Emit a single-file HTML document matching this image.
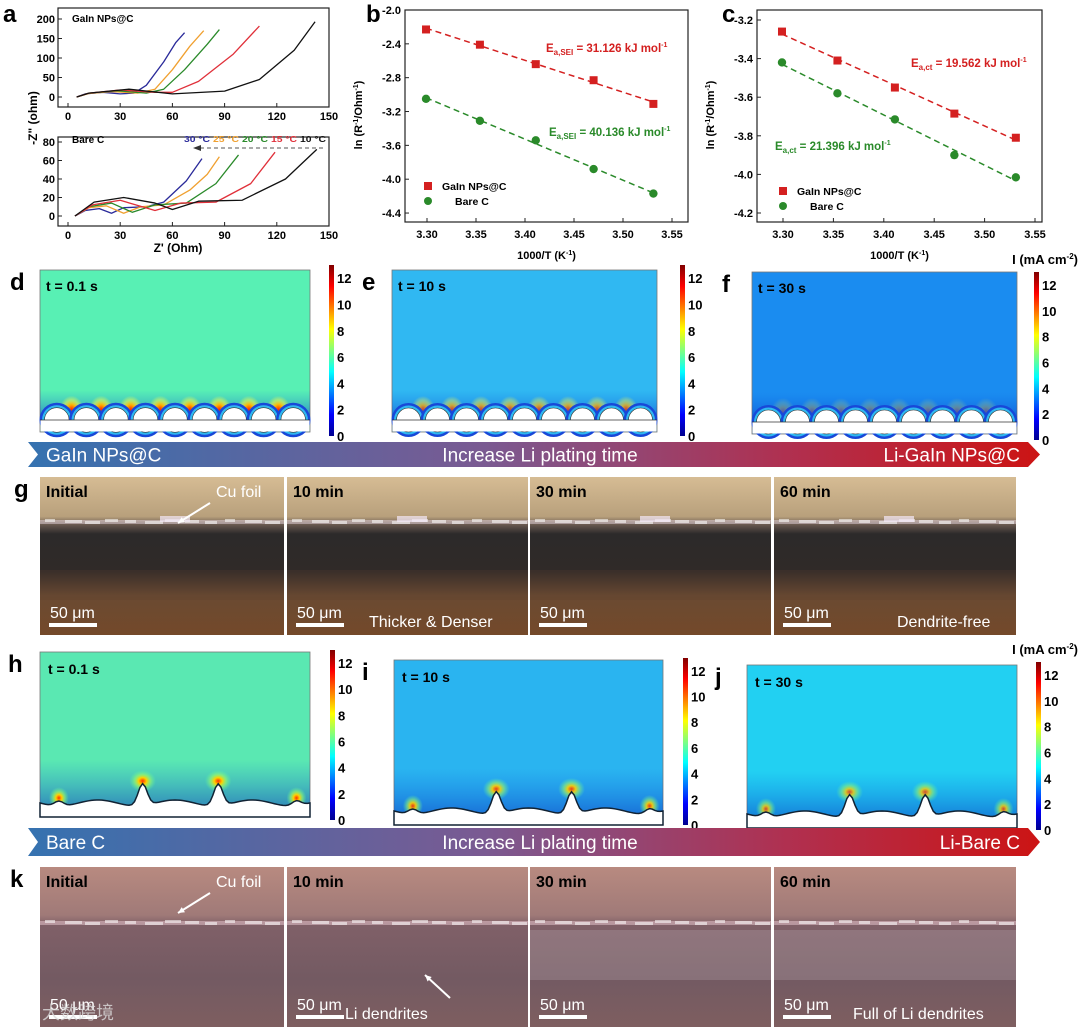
<!DOCTYPE html>
<html><head><meta charset="utf-8">
<style>
html,body{margin:0;padding:0;background:#fff;}
svg{display:block;font-family:"Liberation Sans","Noto Sans CJK SC",sans-serif;}
</style></head>
<body>
<svg id="fig" width="1080" height="1029" viewBox="0 0 1080 1029" xmlns="http://www.w3.org/2000/svg">
<defs>
<linearGradient id="jet" x1="0" y1="1" x2="0" y2="0">
<stop offset="0" stop-color="#00008f"/><stop offset="0.125" stop-color="#0000ff"/><stop offset="0.375" stop-color="#00ffff"/><stop offset="0.625" stop-color="#ffff00"/><stop offset="0.875" stop-color="#ff0000"/><stop offset="1" stop-color="#800000"/>
</linearGradient>
<linearGradient id="band" x1="0" y1="0" x2="1" y2="0">
<stop offset="0" stop-color="#3572b0"/><stop offset="0.45" stop-color="#7a5a92"/><stop offset="0.75" stop-color="#b03050"/><stop offset="1" stop-color="#cc1414"/>
</linearGradient>
<linearGradient id="photoG" x1="0" y1="0" x2="0" y2="1">
<stop offset="0" stop-color="#d6bc94"/><stop offset="0.25" stop-color="#b8a07c"/><stop offset="0.3" stop-color="#6a5a50"/><stop offset="0.36" stop-color="#2c2a2a"/><stop offset="0.6" stop-color="#302a28"/><stop offset="0.75" stop-color="#6a4a32"/><stop offset="1" stop-color="#74492a"/>
</linearGradient>
<linearGradient id="photoK" x1="0" y1="0" x2="0" y2="1">
<stop offset="0" stop-color="#b88a80"/><stop offset="0.3" stop-color="#a07a78"/><stop offset="0.36" stop-color="#806068"/><stop offset="0.7" stop-color="#735a62"/><stop offset="1" stop-color="#7e5e60"/>
</linearGradient>
<radialGradient id="hot" cx="0.5" cy="0.5" r="0.5">
<stop offset="0" stop-color="#ff2000"/><stop offset="0.35" stop-color="#ffb000"/><stop offset="0.7" stop-color="#ffff40" stop-opacity="0.5"/><stop offset="1" stop-color="#ffff40" stop-opacity="0"/>
</radialGradient>
<radialGradient id="hot2" cx="0.5" cy="0.5" r="0.5">
<stop offset="0" stop-color="#ff3000"/><stop offset="0.3" stop-color="#ffd000"/><stop offset="0.6" stop-color="#a0ff60" stop-opacity="0.6"/><stop offset="1" stop-color="#60ffa0" stop-opacity="0"/>
</radialGradient>
<linearGradient id="deep" x1="0" y1="0" x2="0" y2="1">
<stop offset="0" stop-color="#1060e0" stop-opacity="0"/><stop offset="1" stop-color="#0830c0" stop-opacity="0.8"/>
</linearGradient>
</defs>
<g id="panelA"></g>
<g id="panelB"></g>
<g id="panelC"></g>
<g id="sims"></g>
<g id="bands"></g>
<g id="photos"></g>
</svg>
<script>
const NS="http://www.w3.org/2000/svg";
// ---- panel a data ----
const aTemps=["30 °C","25 °C","20 °C","15 °C","10 °C"];
const aColors=["#2a2a9a","#f0a030","#2a8a2a","#e0303a","#111111"];
const aTopX=[[5,10,20,30,38,45,55,62,67],[5,12,25,40,50,60,70,78],[5,12,28,45,55,67,80,87],[5,12,30,50,60,75,95,110],[5,12,35,60,90,110,130,142]];
const aTopY=[[0,8,12,8,10,30,90,140,165],[0,9,14,10,20,70,130,170],[0,10,16,10,20,70,135,173],[0,10,18,12,12,40,110,182],[0,10,20,8,15,45,120,193]];
const aBotX=[[4,10,18,25,32,45,55,68,77],[4,12,22,32,42,55,70,80,87],[4,12,25,37,50,68,85,98],[4,14,30,50,65,85,105,119],[4,15,32,50,60,75,100,125,143]];
const aBotY=[[0,6,8,3,9,10,15,38,62],[0,9,11,3,10,12,28,45,64],[0,10,14,4,12,14,35,66],[0,12,17,6,14,15,35,69],[0,15,20,14,7,16,17,40,72]];
const aXTicks=[0,30,60,90,120,150];
const aTopTicks=[0,50,100,150,200];
const aBotTicks=[0,20,40,60,80];
// ---- panel b/c data ----
const invT=[3.299,3.354,3.411,3.47,3.531];
const bGaIn=[-2.23,-2.41,-2.64,-2.83,-3.11];
const bBare=[-3.05,-3.31,-3.54,-3.88,-4.17];
const cGaIn=[-3.26,-3.41,-3.55,-3.685,-3.81];
const cBare=[-3.42,-3.58,-3.715,-3.90,-4.015];
const xTicksBC=[3.30,3.35,3.40,3.45,3.50,3.55];
const bYTicks=[-2.0,-2.4,-2.8,-3.2,-3.6,-4.0,-4.4];
const cYTicks=[-3.2,-3.4,-3.6,-3.8,-4.0,-4.2];
const cbTicks=[0,2,4,6,8,10,12];

function el(parent,tag,attrs,text){const e=document.createElementNS(NS,tag);for(const k in attrs)e.setAttribute(k,attrs[k]);if(text!==undefined)e.textContent=text;parent.appendChild(e);return e;}

// ---- Panel A ----
(function(){
 const g=document.getElementById('panelA');
 const X=v=>68+v*1.74;
 const Yt=v=>97-v*0.39, Yb=v=>216-v*0.925;
 const L=el(g,'text',{x:3,y:22,'font-size':24,'font-weight':'bold'},'a');
 
 [[8,107,Yt,aTopTicks,aTopX,aTopY,'top'],[137,226,Yb,aBotTicks,aBotX,aBotY,'bottom']].forEach(([y0,y1,Y,ticks,XS,YS,nm])=>{
  const box=el(g,'rect',{x:58,y:y0,width:271,height:y1-y0,fill:'none',stroke:'#222','stroke-width':1.2});
  
  ticks.forEach(t=>{el(g,'line',{x1:58,x2:62,y1:Y(t),y2:Y(t),stroke:'#222'});
   const tl=el(g,'text',{x:55,y:Y(t)+4,'font-size':11,'font-weight':'bold','text-anchor':'end'},t);
   });
  aXTicks.forEach(t=>{el(g,'line',{x1:X(t),x2:X(t),y1:y1,y2:y1-4,stroke:'#222'});
   const tl=el(g,'text',{x:X(t),y:y1+13,'font-size':11,'font-weight':'bold','text-anchor':'middle'},t);
   });
  XS.forEach((xs,i)=>{const pts=xs.map((x,j)=>X(x)+','+Y(YS[i][j])).join(' ');
   const p=el(g,'polyline',{points:pts,fill:'none',stroke:aColors[i],'stroke-width':1.3,'stroke-linejoin':'round'});
   });
 });
 let t=el(g,'text',{x:72,y:22,'font-size':10,'font-weight':'bold'},'GaIn NPs@C');
 t=el(g,'text',{x:72,y:143,'font-size':10,'font-weight':'bold'},'Bare C');
 const xs=[184,213,242,271,300];
 aTemps.forEach((tt,i)=>{const e=el(g,'text',{x:xs[i],y:142,'font-size':8.5,'font-weight':'bold',fill:aColors[i],textLength:26,lengthAdjust:'spacingAndGlyphs'},tt);});
 el(g,'line',{x1:200,x2:326,y1:148,y2:148,stroke:'#555','stroke-dasharray':'4,3'});
 el(g,'polygon',{points:'193,148 201,145 201,151',fill:'#333'});
 t=el(g,'text',{x:0,y:0,'font-size':12,'font-weight':'bold',transform:'translate(37,118) rotate(-90)','text-anchor':'middle'},'-Z" (ohm)');
 t=el(g,'text',{x:178,y:252,'font-size':12,'font-weight':'bold','text-anchor':'middle'},"Z' (Ohm)");
})();

// ---- Panels B/C ----
function arrh(gid,label,lx,box,xpos,ypos,yT,yTicks,red,green,eRed,eGreen,ePosR,ePosG,leg,sub,fmt){
 const g=document.getElementById(gid);
 const X=v=>xpos[0]+(v-3.30)*xpos[1];
 const Y=v=>ypos[0]+(ypos[1]-v)*ypos[2];
 let t=el(g,'text',{x:lx,y:22,'font-size':24,'font-weight':'bold'},label);
 const r=el(g,'rect',{x:box[0],y:box[1],width:box[2]-box[0],height:box[3]-box[1],fill:'none',stroke:'#222','stroke-width':1.2});
 
 yTicks.forEach(v=>{el(g,'line',{x1:box[0],x2:box[0]+4,y1:Y(v),y2:Y(v),stroke:'#222'});
  const tl=el(g,'text',{x:box[0]-4,y:Y(v)+4,'font-size':11,'font-weight':'bold','text-anchor':'end'},v.toFixed(fmt));
  });
 xTicksBC.forEach(v=>{el(g,'line',{x1:X(v),x2:X(v),y1:box[3],y2:box[3]-4,stroke:'#222'});
  const tl=el(g,'text',{x:X(v),y:box[3]+16,'font-size':11,'font-weight':'bold','text-anchor':'middle'},v.toFixed(2));
  });
 [[red,'#d42020','square','gain'],[green,'#2a8a2a','circle','bare']].forEach(([ys,c,shape,nm])=>{
  const n=ys.length;let mx=0,my=0;invT.forEach((x,i)=>{mx+=x;my+=ys[i];});mx/=n;my/=n;
  let sxy=0,sxx=0;invT.forEach((x,i)=>{sxy+=(x-mx)*(ys[i]-my);sxx+=(x-mx)*(x-mx);});
  const k=sxy/sxx,b0=my-k*mx;const xa=invT[0],xb=invT[n-1];
  const fl=el(g,'line',{x1:X(xa),y1:Y(k*xa+b0),x2:X(xb),y2:Y(k*xb+b0),stroke:c,'stroke-width':1.5,'stroke-dasharray':'6,4'});
  
  invT.forEach((x,i)=>{let m;
   if(shape==='square')m=el(g,'rect',{x:X(x)-4,y:Y(ys[i])-4,width:8,height:8,fill:c});
   else m=el(g,'circle',{cx:X(x),cy:Y(ys[i]),r:4.2,fill:c});
   });
 });
 [[eRed,'#d42020',ePosR],[eGreen,'#2a8a2a',ePosG]].forEach(([val,c,p])=>{
  const tx=el(g,'text',{x:p[0],y:p[1],'font-size':11.5,'font-weight':'bold',fill:c});
  
  tx.innerHTML='E<tspan font-size="8" dy="3">'+sub+'</tspan><tspan dy="-3"> = '+val+' kJ mol</tspan><tspan font-size="7" dy="-5">-1</tspan>';
 });
 let l=el(g,'rect',{x:leg[0]-4,y:leg[1]-4,width:8,height:8,fill:'#d42020'});
 t=el(g,'text',{x:leg[0]+14,y:leg[1]+4,'font-size':10.5,'font-weight':'bold'},'GaIn NPs@C');
 l=el(g,'circle',{cx:leg[0],cy:leg[1]+15,r:4,fill:'#2a8a2a'});
 t=el(g,'text',{x:leg[0]+27,y:leg[1]+19,'font-size':10.5,'font-weight':'bold'},'Bare C');
 const yt=el(g,'text',{x:0,y:0,'font-size':11,'font-weight':'bold','text-anchor':'middle',transform:'translate('+yT[0]+','+yT[1]+') rotate(-90)'});
 yt.innerHTML='ln (R<tspan font-size="7" dy="-4">-1</tspan><tspan dy="4">/Ohm</tspan><tspan font-size="7" dy="-4">-1</tspan><tspan dy="4">)</tspan>';
 
 const xt=el(g,'text',{x:(box[0]+box[2])/2,y:box[3]+37,'font-size':11,'font-weight':'bold','text-anchor':'middle'});
 xt.innerHTML='1000/T (K<tspan font-size="7" dy="-4">-1</tspan><tspan dy="4">)</tspan>';
 
}
arrh('panelB','b',366,[405,10,688,222],[427,980],[10,-2.0,84.6],[362,115],bYTicks,bGaIn,bBare,'31.126','40.136',[546,52],[549,136],[428,186],'a,SEI',1);
arrh('panelC','c',722,[757,10,1042,222],[783,1008],[20,-3.2,193],[714,115],cYTicks,cGaIn,cBare,'19.562','21.396',[911,67],[775,150],[783,191],'a,ct',1);

// ---- simulation panels ----
(function(){
 const g=document.getElementById('sims');
 function colorbar(x,y0,y1,withUnit){
  const r=el(g,'rect',{x:x,y:y0,width:5,height:y1-y0,fill:'url(#jet)'});
  cbTicks.forEach(v=>{const yy=y1-(v/13)*(y1-y0);
   const t=el(g,'text',{x:x+8,y:yy+5,'font-size':13,'font-weight':'bold'},v);});
  if(withUnit){const t=el(g,'text',{x:1078,y:y0-8,'font-size':13,'font-weight':'bold','text-anchor':'end'});t.innerHTML='I (mA cm<tspan font-size="8" dy="-5">-2</tspan><tspan dy="5">)</tspan>';}
 }
 function circles(x0,y0,w,h,bg,hotOp,label,tlab,nm){
  const r=el(g,'rect',{x:x0,y:y0,width:w,height:h,fill:bg,stroke:'#777','stroke-width':0.8});
  const base=y0+h-12;const n=9,sp=(w-4)/n,rad=sp/2-2.5;
  el(g,'rect',{x:x0,y:base-30,width:w,height:30,fill:'url(#deep)',opacity:0.7});
  for(let i=0;i<n;i++){const cx=x0+2+sp*(i+0.5);
   if(i<n-1)el(g,'ellipse',{cx:cx+sp/2,cy:base-rad+2,rx:12,ry:14,fill:'url(#hot)',opacity:hotOp});
   el(g,'circle',{cx:cx,cy:base,r:rad+5,fill:'#1848d8'});
   el(g,'circle',{cx:cx,cy:base,r:rad+2.5,fill:'#30b8f0'});
   el(g,'circle',{cx:cx,cy:base,r:rad,fill:'#fff',stroke:'#333','stroke-width':0.6});}
  el(g,'rect',{x:x0+0.5,y:base,width:w-1,height:h-(base-y0)-0.5,fill:'#fff'});
  el(g,'line',{x1:x0,x2:x0+w,y1:base,y2:base,stroke:'#333','stroke-width':0.8});
  let t=el(g,'text',{x:x0+6,y:y0+21,'font-size':14,'font-weight':'bold'},tlab);
  t=el(g,'text',{x:x0-30,y:y0+20,'font-size':24,'font-weight':'bold'},label);
 }
 function waves(x0,y0,w,h,bg,hotOp,label,tlab,nm){
  const r=el(g,'rect',{x:x0,y:y0,width:w,height:h,fill:bg,stroke:'#777','stroke-width':0.8});
  const base=y0+h-12;
  el(g,'rect',{x:x0,y:base-45,width:w,height:45,fill:'url(#deep)',opacity:0.6});
  const peaks=[0.07,0.38,0.66,0.95],hgt=[5,22,22,5];
  peaks.forEach((p,i)=>el(g,'ellipse',{cx:x0+p*w,cy:base-hgt[i]-2,rx:9+hgt[i]*0.2,ry:11,fill:'url(#hot2)',opacity:hotOp}));
  let d='M'+x0+','+(base-2);
  for(let i=0;i<=100;i++){const fx=i/100;let y=base-2+3*Math.sin(fx*Math.PI*7);peaks.forEach((p,k)=>{const dd=(fx-p)*w;y-=hgt[k]*Math.exp(-dd*dd/40);});d+=' L'+(x0+fx*w)+','+y;}
  d+=' L'+(x0+w)+','+(y0+h)+' L'+x0+','+(y0+h)+' Z';
  el(g,'path',{d:d,fill:'#fff',stroke:'#123','stroke-width':1.5});
  let t=el(g,'text',{x:x0+8,y:y0+22,'font-size':14,'font-weight':'bold'},tlab);
  t=el(g,'text',{x:x0-32,y:y0+20,'font-size':24,'font-weight':'bold'},label);
 }
 circles(40,270,270,162,'#58f0b4',1,'d','t = 0.1 s','field-map-d');colorbar(329,265,436,false);
 circles(392,270,265,162,'#30b8f2',0.75,'e','t = 10 s','field-map-e');colorbar(680,265,436,false);
 circles(752,272,265,162,'#1a8cf0',0.3,'f','t = 30 s','field-map-f');colorbar(1034,272,440,true);
 waves(40,652,270,165,'#5ae8b2',1,'h','t = 0.1 s','field-map-h');colorbar(330,650,820,false);
 waves(394,660,269,165,'#2ab4f0',0.9,'i','t = 10 s','field-map-i');colorbar(683,658,825,false);
 waves(747,665,270,163,'#22d0f2',0.8,'j','t = 30 s','field-map-j');colorbar(1036,662,830,true);
})();

// ---- arrow bands ----
(function(){
 const g=document.getElementById('bands');
 function band(y0,y1,l,r,nm){const ym=(y0+y1)/2;
  const p=el(g,'polygon',{points:`28,${y0} 1028,${y0} 1040,${ym} 1028,${y1} 28,${y1} 38,${ym}`,fill:'url(#band)'});
  
  let t=el(g,'text',{x:46,y:ym+7,'font-size':19,fill:'#fff'},l);
  t=el(g,'text',{x:540,y:ym+7,'font-size':19,fill:'#fff','text-anchor':'middle'},'Increase Li plating time');
  t=el(g,'text',{x:1020,y:ym+7,'font-size':19,fill:'#fff','text-anchor':'end'},r);}
 band(442,467,'GaIn NPs@C','Li-GaIn NPs@C','arrow-band-gain');
 band(828,856,'Bare C','Li-Bare C','arrow-band-bare');
})();

// ---- photos ----
(function(){
 const g=document.getElementById('photos');
 const px=[[40,284],[287,528],[530,771],[774,1016]];
 const labs=['Initial','10 min','30 min','60 min'];
 function row(y0,y1,grad,lineY,lineCol,extra,nm){
  px.forEach((p,i)=>{const r=el(g,'rect',{x:p[0],y:y0,width:p[1]-p[0],height:y1-y0,fill:grad});
   el(g,'rect',{x:p[0],y:lineY-2,width:p[1]-p[0],height:4,fill:lineCol,opacity:0.45});
   for(let s=0;s<12;s++){el(g,'rect',{x:p[0]+5+s*20,y:lineY-2+(s%3)-1,width:10+(s*7)%9,height:3,fill:'#fff',opacity:0.55});}
   extra(p,i);
   let t=el(g,'text',{x:p[0]+6,y:y0+20,'font-size':16,'font-weight':'bold'},labs[i]);
   t=el(g,'text',{x:p[0]+10,y:y1-17,'font-size':16,fill:'#fff'},'50 μm');
   el(g,'rect',{x:p[0]+9,y:y1-12,width:48,height:4,fill:'#fff'});});
 }
 row(477,635,'url(#photoG)',522,'#f0e0f0',(p,i)=>{el(g,'rect',{x:p[0]+(i==0?120:110),y:516,width:30,height:6,fill:'#f4e8f8',opacity:0.7});el(g,'rect',{x:p[0],y:570,width:p[1]-p[0],height:30,fill:'#5a4030',opacity:0.25});},'g');
 row(867,1027,'url(#photoK)',923,'#f8d8e0',(p,i)=>{if(i>=2){el(g,'rect',{x:p[0],y:930,width:p[1]-p[0],height:50,fill:'#b8a8b0',opacity:0.3});}},'k');
 let t=el(g,'text',{x:14,y:497,'font-size':24,'font-weight':'bold'},'g');
 t=el(g,'text',{x:10,y:887,'font-size':24,'font-weight':'bold'},'k');
 const ann=[[216,497,'Cu foil',[210,503,178,523]],[216,887,'Cu foil',[210,893,178,913]],[345,1019,'Li dendrites',[450,998,425,975]]];
 ann.forEach(a=>{const tt=el(g,'text',{x:a[0],y:a[1],'font-size':16,fill:'#fff'},a[2]);
  const l=a[3];el(g,'line',{x1:l[0],y1:l[1],x2:l[2],y2:l[3],stroke:'#fff','stroke-width':2});
  const ang=Math.atan2(l[3]-l[1],l[2]-l[0]);const s=7;
  el(g,'polygon',{points:`${l[2]},${l[3]} ${l[2]-s*Math.cos(ang-0.45)},${l[3]-s*Math.sin(ang-0.45)} ${l[2]-s*Math.cos(ang+0.45)},${l[3]-s*Math.sin(ang+0.45)}`,fill:'#fff'});});
 t=el(g,'text',{x:369,y:627,'font-size':16,fill:'#fff'},'Thicker & Denser');
 t=el(g,'text',{x:897,y:627,'font-size':16,fill:'#fff'},'Dendrite-free');
 t=el(g,'text',{x:853,y:1019,'font-size':16,fill:'#fff'},'Full of Li dendrites');
 t=el(g,'text',{x:42,y:1019,'font-size':18,fill:'#ddd',opacity:0.8},'大数跨境');
})();
</script>
</body></html>
